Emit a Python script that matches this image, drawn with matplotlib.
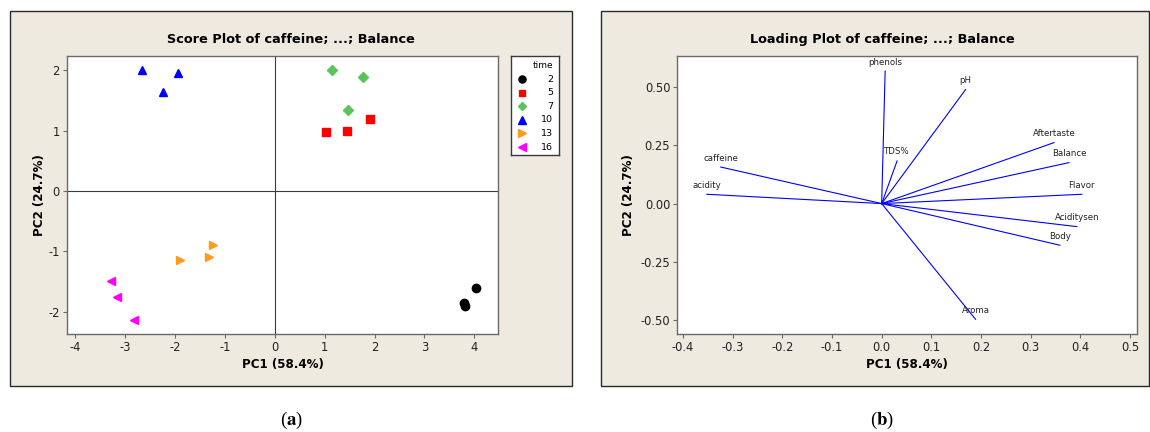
import matplotlib
matplotlib.use("Agg")
import matplotlib.pyplot as plt
from matplotlib.patches import Rectangle

plt.rcParams["mathtext.fontset"] = "stix"
plt.rcParams["axes.unicode_minus"] = False

# --- datos: Score plot (PC1, PC2) por tiempo ---
times = ["2", "5", "7", "10", "13", "16"]
score_pc1 = [
    [3.79, 3.81, 4.04],
    [1.02, 1.44, 1.90],
    [1.14, 1.77, 1.47],
    [-2.66, -1.93, -2.25],
    [-1.24, -1.32, -1.90],
    [-3.28, -3.16, -2.82],
]
score_pc2 = [
    [-1.86, -1.90, -1.60],
    [0.98, 0.99, 1.19],
    [2.00, 1.89, 1.35],
    [2.01, 1.95, 1.64],
    [-0.89, -1.10, -1.15],
    [-1.49, -1.75, -2.13],
]
marker_colors = ["#000000", "#FF0000", "#5CC35C", "#0000FF", "#FF9A1A", "#FF00FF"]
marker_shapes = ["o", "s", "D", "^", ">", "<"]
marker_sizes = [6, 5.5, 5, 6.2, 6.2, 6.2]

# --- datos: Loading plot ---
variables = ["phenols", "pH", "TDS%", "Aftertaste", "Balance", "Flavor",
             "Aciditysen", "Body", "Aroma", "caffeine", "acidity"]
load_pc1 = [0.007, 0.169, 0.031, 0.347, 0.377, 0.403, 0.393, 0.359, 0.189, -0.324, -0.352]
load_pc2 = [0.569, 0.490, 0.183, 0.262, 0.176, 0.040, -0.099, -0.179, -0.497, 0.157, 0.040]

W, H = 1150, 432
BEIGE = "#EEEAE0"
SPINE = "#6A6A6A"


def fx(px):
    return px / W


def fy(py):
    return 1 - py / H


fig = plt.figure(figsize=(W / 100, H / 100), dpi=100)
fig.patch.set_facecolor("white")

# paneles beige (detrás de los ejes)
for x0, x1 in [(9.5, 571.7), (601.3, 1149.0)]:
    fig.patches.append(Rectangle((fx(x0), fy(385.7)), fx(x1 - x0), (385.7 - 11) / H,
                                 transform=fig.transFigure, facecolor=BEIGE,
                                 edgecolor="#2A2A2A", lw=1.0, zorder=-5))


def estilo(ax, ypad):
    for s in ax.spines.values():
        s.set_color(SPINE)
        s.set_linewidth(1.0)
    ax.tick_params(direction="out", length=3, width=0.8, color=SPINE,
                   labelsize=8.3, labelcolor="#222222", pad=2)
    ax.set_xlabel("PC1 (58.4%)", fontsize=8.6, fontweight="bold", labelpad=3)
    ax.set_ylabel("PC2 (24.7%)", fontsize=8.6, fontweight="bold", labelpad=ypad)


# --- (a) Score plot ---
ax1 = fig.add_axes([fx(66.7), fy(333.7), fx(498.3 - 66.7), (333.7 - 56) / H])
ax1.axhline(0, color="#3A3A3A", lw=0.8, zorder=1)
ax1.axvline(0, color="#3A3A3A", lw=0.8, zorder=1)
for i in range(len(times)):
    ax1.plot(score_pc1[i], score_pc2[i], ls="none", marker=marker_shapes[i],
             ms=marker_sizes[i], color=marker_colors[i], mec=marker_colors[i], zorder=3)
ax1.set_xlim(-4.17, 4.48)
ax1.set_ylim(-2.365, 2.24)
ax1.set_xticks(range(-4, 5))
ax1.set_yticks(range(-2, 3))
estilo(ax1, 1.5)
fig.text(fx(290.5), fy(39), "Score Plot of caffeine; ...; Balance",
         ha="center", va="center", fontsize=9.3, fontweight="bold")

# leyenda manual
axl = fig.add_axes([fx(511), fy(155), fx(48), 99 / H])
axl.set_xlim(511, 559)
axl.set_ylim(155, 56)
axl.set_xticks([])
axl.set_yticks([])
for s in axl.spines.values():
    s.set_color("#3A3A3A")
    s.set_linewidth(1.0)
axl.text(553, 65, "time", ha="right", va="center", fontsize=6.5)
for i, t in enumerate(times):
    yy = 79 + i * 13.6
    axl.plot([521.7], [yy], ls="none", marker=marker_shapes[i],
             ms=marker_sizes[i] * 0.85, color=marker_colors[i])
    axl.text(553, yy, t, ha="right", va="center", fontsize=6.8)

# --- (b) Loading plot ---
ax2 = fig.add_axes([fx(677.3), fy(333.7), fx(1137.3 - 677.3), (333.7 - 56) / H])
for name, x, y in zip(variables, load_pc1, load_pc2):
    ax2.plot([0, x], [0, y], color="#0000FF", lw=0.8)
    ax2.annotate(name, (x, y), xytext=(0, 6.5), textcoords="offset points",
                 ha="center", va="center", fontsize=6.2, color="#222222")
ax2.set_xlim(-0.4115, 0.5147)
ax2.set_ylim(-0.559, 0.634)
ax2.set_xticks([-0.4, -0.3, -0.2, -0.1, 0.0, 0.1, 0.2, 0.3, 0.4, 0.5])
ax2.set_xticklabels(["-0.4", "-0.3", "-0.2", "-0.1", "0.0", "0.1", "0.2", "0.3", "0.4", "0.5"])
ax2.set_yticks([-0.5, -0.25, 0.0, 0.25, 0.5])
ax2.set_yticklabels(["-0.50", "-0.25", "0.00", "0.25", "0.50"])
estilo(ax2, 4)
fig.text(fx(882.5), fy(39), "Loading Plot of caffeine; ...; Balance",
         ha="center", va="center", fontsize=9.3, fontweight="bold")

# subtítulos (a) y (b)
for xc, letra in [(291, "a"), (882, "b")]:
    fig.text(fx(xc), fy(420), "(" + r"$\mathbf{" + letra + "}$" + ")",
             ha="center", va="center", fontsize=13.5, family="Liberation Serif")

fig.savefig("out.png", dpi=100)
